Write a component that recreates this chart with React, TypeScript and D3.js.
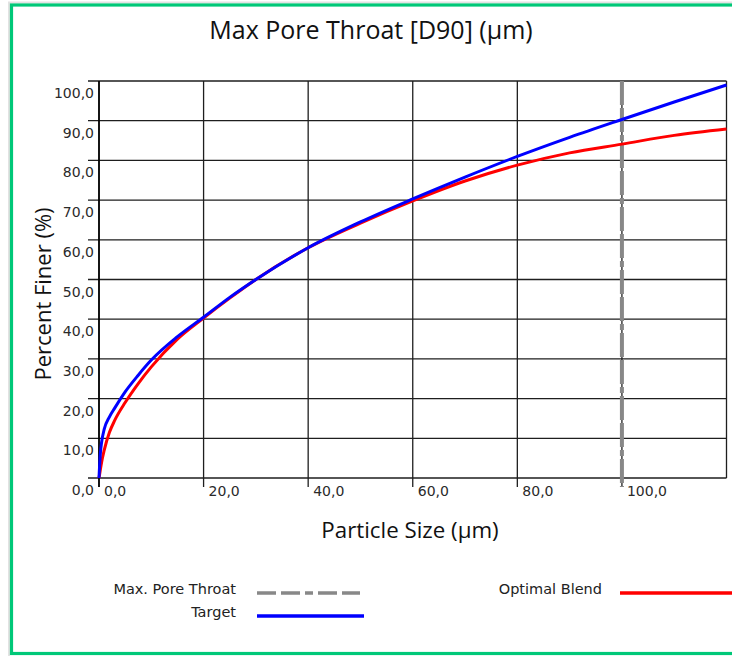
import React from "react";
import * as d3 from "d3";

const xTicks = [0, 20, 40, 60, 80, 100];
const yTicks = [0, 10, 20, 30, 40, 50, 60, 70, 80, 90, 100];
const sizes = [0, 0.25, 0.5, 1, 2, 3, 5, 7.5, 10, 15, 20, 25, 30, 40, 50, 60, 70, 80, 90, 100, 110, 120];
const target = [0, 6, 9, 12.3, 15.4, 17.6, 21.7, 25.9, 29.7, 35.6, 40.5, 45.5, 50, 58, 64.5, 70.3, 75.8, 81, 85.8, 90.3, 94.7, 99];
const blend = [0, 2, 4, 7, 11.5, 14.5, 19, 23.8, 28, 35, 40.3, 45.3, 50, 58, 64.2, 69.8, 74.8, 78.8, 81.9, 84.1, 86.3, 87.9];
const maxPoreThroat = 100;
const fmt = (v: number) => v.toFixed(1).replace(".", ",");

export default function App() {
  const W = 732, H = 656;
  const x = d3.scaleLinear().domain([0, 120]).range([99, 726.5]);
  const y = d3.scaleLinear().domain([0, 100]).range([478, 81]);
  const line = (vals: number[]) =>
    d3.line<number>().x((_, i) => x(sizes[i])).y((v) => y(v)).curve(d3.curveMonotoneX)(vals) || "";
  const tickFont = "'DejaVu Sans', Verdana, sans-serif";
  const titleFont = "'Open Sans', 'Noto Sans', sans-serif";
  const grid = "#1e1e1e";
  return (
    <svg width={W} height={H} style={{ position: "absolute", left: 0, top: 0, background: "#fff" }}>
      <rect x={0} y={0} width={W} height={H} fill="#fff" />
      {/* border with faint shadow */}
      <rect x={9} y={2.5} width={800} height={700} fill="none" stroke="#e2e2e2" strokeWidth={2} />
      <rect x={11.5} y={5} width={800} height={648.5} fill="none" stroke="#00c878" strokeWidth={3.2} />
      <text x={371} y={39} textAnchor="middle" fontFamily={titleFont} fontSize={25} fill="#111">
        Max Pore Throat [D90] (µm)
      </text>
      {/* horizontal grid + ticks */}
      {yTicks.map((t) => (
        <g key={"y" + t}>
          <line x1={88} x2={726.5} y1={y(t)} y2={y(t)} stroke={grid} strokeWidth={1.3} />
          <text x={94} y={y(t) + 17} textAnchor="end" fontFamily={tickFont} fontSize={14} fill="#2a2a2a">
            {fmt(t)}
          </text>
        </g>
      ))}
      {/* vertical grid + ticks */}
      {xTicks.map((t) => (
        <g key={"x" + t}>
          <line x1={x(t)} x2={x(t)} y1={81} y2={487} stroke={grid} strokeWidth={1.3} />
          <text x={x(t) + 5} y={496} fontFamily={tickFont} fontSize={14} fill="#2a2a2a">
            {fmt(t)}
          </text>
        </g>
      ))}
      <line x1={726.5} x2={726.5} y1={81} y2={478} stroke={grid} strokeWidth={1.3} />
      <line x1={x(0)} x2={x(0)} y1={81} y2={487} stroke="#000" strokeWidth={1.6} />
      {/* max pore throat */}
      <line x1={x(maxPoreThroat)} x2={x(maxPoreThroat)} y1={81} y2={487} stroke="#888" strokeWidth={4}
        strokeDasharray="24,3,24,3,6,3" />
      {/* curves */}
      <path d={line(blend)} fill="none" stroke="#ff0000" strokeWidth={3} />
      <path d={line(target)} fill="none" stroke="#0000ff" strokeWidth={3} />
      {/* axis titles */}
      <text x={410} y={538} textAnchor="middle" fontFamily={titleFont} fontSize={22.3} fill="#111">
        Particle Size (µm)
      </text>
      <text transform={`translate(51,294) rotate(-90)`} textAnchor="middle" fontFamily={titleFont} fontSize={22} fill="#111">
        Percent Finer (%)
      </text>
      {/* legend */}
      <text x={236} y={594} textAnchor="end" fontFamily={tickFont} fontSize={14.5} fill="#222">Max. Pore Throat</text>
      <line x1={257} x2={360} y1={593} y2={593} stroke="#888" strokeWidth={3.5} strokeDasharray="19,5,19,5,8,5" />
      <text x={236} y={617} textAnchor="end" fontFamily={tickFont} fontSize={14.5} fill="#222">Target</text>
      <line x1={257} x2={364} y1={616} y2={616} stroke="#0000ff" strokeWidth={3.5} />
      <text x={602} y={594} textAnchor="end" fontFamily={tickFont} fontSize={14.5} fill="#222">Optimal Blend</text>
      <line x1={620} x2={732} y1={593} y2={593} stroke="#ff0000" strokeWidth={3.5} />
    </svg>
  );
}
